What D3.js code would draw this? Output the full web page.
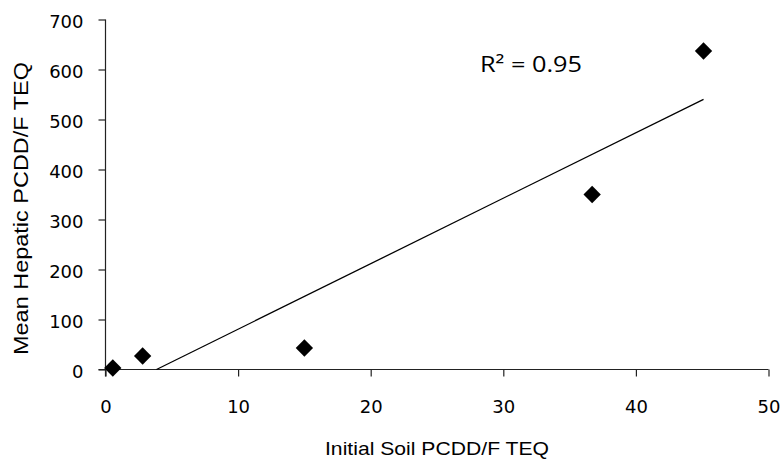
<!DOCTYPE html>
<html>
<head>
<meta charset="utf-8">
<script src="https://cdn.jsdelivr.net/npm/d3@7"></script>
<style>
  html, body { margin: 0; padding: 0; background: #fff; }
  svg { display: block; }
</style>
</head>
<body>
<svg id="chart" width="781" height="459"></svg>
<script>
// ---- data ----
const soilTEQ    = [0.55, 2.8, 15.0, 36.7, 45.1];
const hepaticTEQ = [3, 27, 43, 350, 637];
const xTicks = [0, 10, 20, 30, 40, 50];
const yTicks = [0, 100, 200, 300, 400, 500, 600, 700];
const xTitle = "Initial Soil PCDD/F TEQ";
const yTitle = "Mean Hepatic PCDD/F TEQ";
const r2Label = "R\u00B2 = 0.95";

const svg = d3.select("#chart");
const x = d3.scaleLinear().domain([0, 50]).range([105.5, 768.5]);
const y = d3.scaleLinear().domain([0, 700]).range([369.5, 19.5]);

const axisColor = "#222";
const tickFont = "'DejaVu Sans', sans-serif";

// x axis
const xAxis = svg.append("g")
  .attr("transform", `translate(0,${y(0)})`)
  .call(d3.axisBottom(x).tickValues(xTicks).tickSize(7).tickSizeOuter(0).tickPadding(0).tickFormat(d3.format("d")));
xAxis.select(".domain").attr("stroke", axisColor).attr("stroke-width", 1.2)
  .attr("d", `M${x(0) - 7},0H${x(50)}`);
xAxis.selectAll(".tick line").attr("stroke", axisColor).attr("stroke-width", 1.2);
xAxis.selectAll(".tick text")
  .attr("font-family", tickFont).attr("font-size", 18).attr("fill", "#000")
  .attr("y", 43).attr("dy", 0);

// y axis
const yAxis = svg.append("g")
  .attr("transform", `translate(${x(0)},0)`)
  .call(d3.axisLeft(y).tickValues(yTicks).tickSize(7).tickSizeOuter(0).tickPadding(0).tickFormat(d3.format("d")));
yAxis.select(".domain").attr("stroke", axisColor).attr("stroke-width", 1.2)
  .attr("d", `M0,${y(700)}V${y(0) + 7}`);
yAxis.selectAll(".tick line").attr("stroke", axisColor).attr("stroke-width", 1.2);
yAxis.selectAll(".tick text")
  .attr("font-family", tickFont).attr("font-size", 18).attr("fill", "#000")
  .attr("x", -22).attr("dy", "0.42em");

// linear regression trendline
const n = soilTEQ.length;
const mx = d3.mean(soilTEQ), my = d3.mean(hepaticTEQ);
let sxy = 0, sxx = 0;
for (let i = 0; i < n; i++) {
  sxy += (soilTEQ[i] - mx) * (hepaticTEQ[i] - my);
  sxx += (soilTEQ[i] - mx) ** 2;
}
const slope = sxy / sxx, intercept = my - slope * mx;
const xStart = Math.max(d3.min(soilTEQ), -intercept / slope);
const xEnd = d3.max(soilTEQ);
svg.append("line")
  .attr("x1", x(xStart)).attr("y1", y(slope * xStart + intercept))
  .attr("x2", x(xEnd)).attr("y2", y(slope * xEnd + intercept))
  .attr("stroke", "#000").attr("stroke-width", 1.3);

// markers (diamonds)
const diamond = d3.symbol().type(d3.symbolSquare).size(150);
svg.append("g").selectAll("path")
  .data(soilTEQ.map((d, i) => [d, hepaticTEQ[i]]))
  .join("path")
  .attr("d", diamond)
  .attr("transform", d => `translate(${x(d[0])},${y(d[1])}) rotate(45)`)
  .attr("fill", "#000");

// R² label
svg.append("text")
  .attr("x", 480).attr("y", 72)
  .attr("font-family", "'Open Sans', 'Noto Sans', sans-serif").attr("font-size", 22)
  .attr("textLength", 102).attr("lengthAdjust", "spacingAndGlyphs")
  .attr("fill", "#000")
  .text(r2Label);

// axis titles
svg.append("text")
  .attr("x", 437).attr("y", 455)
  .attr("text-anchor", "middle")
  .attr("font-family", "'Liberation Sans', Arial, sans-serif").attr("font-size", 19)
  .attr("textLength", 224).attr("lengthAdjust", "spacingAndGlyphs")
  .attr("fill", "#000")
  .text(xTitle);

svg.append("text")
  .attr("transform", "translate(28,208.5) rotate(-90)")
  .attr("text-anchor", "middle")
  .attr("font-family", "'Liberation Sans', Arial, sans-serif").attr("font-size", 21)
  .attr("textLength", 293).attr("lengthAdjust", "spacingAndGlyphs")
  .attr("fill", "#000")
  .text(yTitle);
</script>
</body>
</html>
